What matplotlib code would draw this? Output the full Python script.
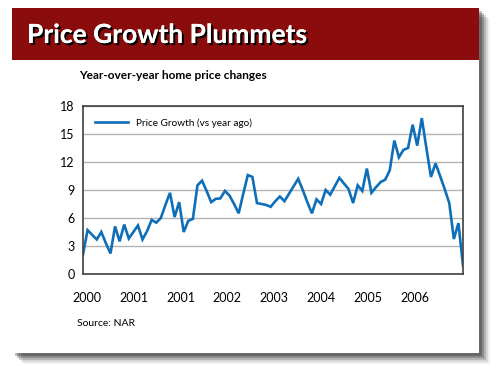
import matplotlib
matplotlib.use("Agg")
import matplotlib.pyplot as plt
import matplotlib.patheffects as pe
from matplotlib.patches import Rectangle
import numpy as np

# monthly year-over-year price growth, 2000 - 2006
growth = [2.1, 4.7, 4.2, 3.7, 4.5, 3.3, 2.2, 5.1, 3.5, 5.3,
          3.8, 4.5, 5.2, 3.7, 4.6, 5.8, 5.5, 6.0, 7.4, 8.7,
          6.1, 7.7, 4.5, 5.7, 5.9, 9.5, 10.0, 8.9, 7.7, 8.05,
          8.1, 8.9, 8.4, 7.5, 6.5, 8.6, 10.6, 10.4, 7.6, 7.5,
          7.4, 7.2, 7.8, 8.3, 7.8, 8.6, 9.4, 10.2, 9.0, 7.7,
          6.5, 8.0, 7.5, 9.0, 8.5, 9.4, 10.3, 9.7, 9.1, 7.6,
          9.5, 8.9, 11.3, 8.7, 9.3, 9.85, 10.1, 11.1, 14.3, 12.5,
          13.3, 13.5, 16.0, 13.75, 16.7, 13.5, 10.4, 11.85, 10.5, 9.1,
          7.6, 3.75, 5.45, 0.9]
year_labels = ["2000", "2001", "2001", "2002", "2003", "2004", "2005", "2006"]
label_pos = [0.9, 11.1, 21.3, 31.5, 41.8, 52.0, 62.2, 72.4]
y_ticks = [0, 3, 6, 9, 12, 15, 18]

plt.rcParams['font.family'] = ['Lato', 'DejaVu Sans']

fig = plt.figure(figsize=(5, 3.74), dpi=100)

# background layer in pixel coords
bg = fig.add_axes([0, 0, 1, 1])
bg.set_xlim(0, 500)
bg.set_ylim(374, 0)
bg.axis('off')

# soft drop shadow behind the card
for s, a in [(11, 0.06), (9, 0.10), (7, 0.16), (5, 0.22), (3, 0.25)]:
    bg.add_patch(Rectangle((12 + s, 8 + s), 467, 345, color='black', alpha=a, lw=0))
bg.add_patch(Rectangle((12, 8), 467, 345, color='white', lw=0))
bg.add_patch(Rectangle((12, 8), 467, 52, color='#8a0c0c', lw=0))

bg.text(27, 35, "Price Growth Plummets", color='white', fontsize=19,
        fontweight='bold', va='center', ha='left',
        path_effects=[pe.withSimplePatchShadow(offset=(1.5, -1.5),
                                               shadow_rgbFace='black', alpha=1),
                      pe.Normal()])
bg.text(79, 75, "Year-over-year home price changes", fontsize=8.6,
        fontweight='bold', va='center', ha='left')
bg.text(77, 323, "Source: NAR", fontsize=7.5, va='center', ha='left')

# the chart itself
ax = fig.add_axes([83 / 500, 1 - 274 / 374, 380 / 500, 168 / 374])
x = np.arange(len(growth))
ax.plot(x, growth, color='#0e6fb8', lw=1.9, label="Price Growth (vs year ago)",
        solid_joinstyle='miter')
ax.set_xlim(0, len(growth) - 1)
ax.set_ylim(0, 18)
ax.set_yticks(y_ticks)
ax.set_xticks(label_pos)
ax.set_xticklabels(year_labels)
ax.grid(axis='y', color='#b4b4b4', lw=1)
ax.set_axisbelow(True)
ax.tick_params(length=0, labelsize=9)
ax.tick_params(axis='y', pad=6)
ax.tick_params(axis='x', pad=13)
for sp in ax.spines.values():
    sp.set_color('#404040')
    sp.set_linewidth(1.2)

ax.legend(loc='center left', bbox_to_anchor=(12 / 380, 1 - 17 / 168),
          frameon=False, fontsize=7.2, handlelength=3.3, handletextpad=0.8,
          borderpad=0, borderaxespad=0)

fig.savefig("out.png", dpi=100)
